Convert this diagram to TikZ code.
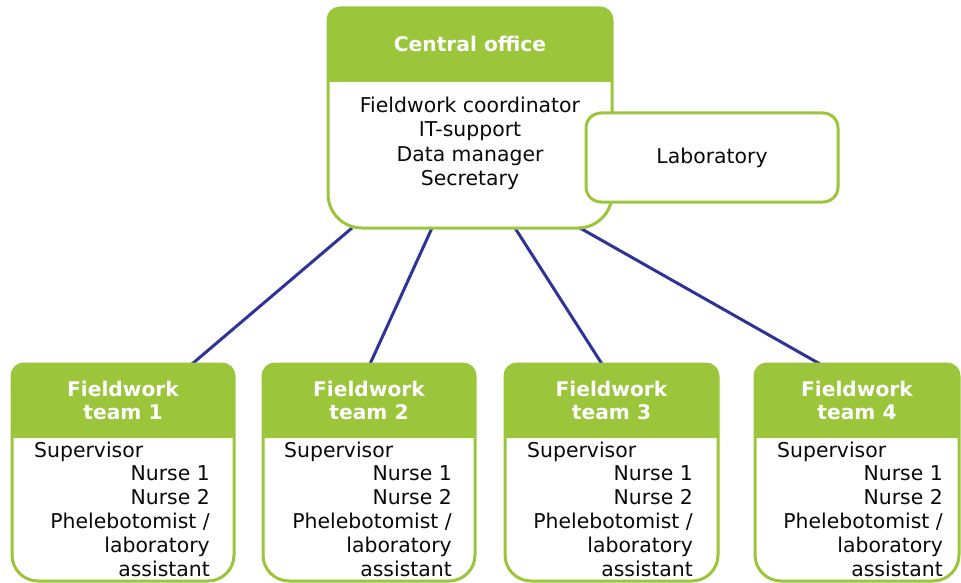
\documentclass[tikz,border=0pt]{standalone}
\usepackage{fontspec}
\setmainfont{DejaVu Sans}
\usepackage{tikz}
\definecolor{leaf}{RGB}{155,197,59}
\definecolor{navy}{RGB}{45,52,150}
\definecolor{ink}{RGB}{10,10,10}

\begin{document}
\begin{tikzpicture}[x=1pt,y=-1pt,
  holder/.style={inner sep=0pt,outer sep=0pt},
  frame/.style={draw=leaf,line width=3pt},
  head/.style={fill=leaf},
  title/.style={text=white,font=\fontsize{20.2}{23}\selectfont\bfseries,align=center,inner sep=0pt},
  staff/.style={text=ink,font=\fontsize{20.4}{24.2}\selectfont,inner sep=0pt},
  link/.style={draw=navy,line width=3pt}]
\useasboundingbox[fill=white] (0,0) rectangle (961,583);

% empty nodes that give the size of each box
\node (CO) at (470,118)[holder,minimum width=284pt,minimum height=220pt] {};
\node (T1) at (123,472.5)[holder,minimum width=222pt,minimum height=217pt] {};
\node (T2) at (369,472.5)[holder,minimum width=212pt,minimum height=217pt] {};
\node (T3) at (611.5,472.5)[holder,minimum width=213pt,minimum height=217pt] {};
\node (T4) at (857,472.5)[holder,minimum width=204pt,minimum height=217pt] {};

% links from the central office down to the teams
\draw [link] ([xshift=-118pt]CO.south) -- ([xshift=69pt]T1.north);
\draw [link] ([xshift=-38pt]CO.south) -- ([xshift=1pt]T2.north);
\draw [link] ([xshift=45pt]CO.south) -- ([xshift=-9.5pt]T3.north);
\draw [link] ([xshift=110pt]CO.south) -- ([xshift=-37pt]T4.north);

% green header bands
\fill [head] (CO.north) [rounded corners=12pt] -- (CO.north east) -- ([yshift=-37pt]CO.north east) [sharp corners] -- ([yshift=-74pt]CO.north east) -- ([yshift=-74pt]CO.north west) -- ([yshift=-37pt]CO.north west) [rounded corners=12pt] -- (CO.north west) -- cycle;
\fill [head] (T1.north) [rounded corners=12pt] -- (T1.north east) -- ([yshift=-37pt]T1.north east) [sharp corners] -- ([yshift=-74pt]T1.north east) -- ([yshift=-74pt]T1.north west) -- ([yshift=-37pt]T1.north west) [rounded corners=12pt] -- (T1.north west) -- cycle;
\fill [head] (T2.north) [rounded corners=12pt] -- (T2.north east) -- ([yshift=-37pt]T2.north east) [sharp corners] -- ([yshift=-74pt]T2.north east) -- ([yshift=-74pt]T2.north west) -- ([yshift=-37pt]T2.north west) [rounded corners=12pt] -- (T2.north west) -- cycle;
\fill [head] (T3.north) [rounded corners=12pt] -- (T3.north east) -- ([yshift=-37pt]T3.north east) [sharp corners] -- ([yshift=-74pt]T3.north east) -- ([yshift=-74pt]T3.north west) -- ([yshift=-37pt]T3.north west) [rounded corners=12pt] -- (T3.north west) -- cycle;
\fill [head] (T4.north) [rounded corners=12pt] -- (T4.north east) -- ([yshift=-37pt]T4.north east) [sharp corners] -- ([yshift=-74pt]T4.north east) -- ([yshift=-74pt]T4.north west) -- ([yshift=-37pt]T4.north west) [rounded corners=12pt] -- (T4.north west) -- cycle;

% outlines, small corners on top and big ones below
\draw [frame] (CO.north) [rounded corners=12pt] -- (CO.north east) -- (CO.east) [rounded corners=34pt] -- (CO.south east) -- (CO.south) -- (CO.south west) -- (CO.west) [rounded corners=12pt] -- (CO.north west) -- cycle;
\draw [frame] (T1.north) [rounded corners=12pt] -- (T1.north east) -- (T1.east) [rounded corners=26pt] -- (T1.south east) -- (T1.south) -- (T1.south west) -- (T1.west) [rounded corners=12pt] -- (T1.north west) -- cycle;
\draw [frame] (T2.north) [rounded corners=12pt] -- (T2.north east) -- (T2.east) [rounded corners=26pt] -- (T2.south east) -- (T2.south) -- (T2.south west) -- (T2.west) [rounded corners=12pt] -- (T2.north west) -- cycle;
\draw [frame] (T3.north) [rounded corners=12pt] -- (T3.north east) -- (T3.east) [rounded corners=26pt] -- (T3.south east) -- (T3.south) -- (T3.south west) -- (T3.west) [rounded corners=12pt] -- (T3.north west) -- cycle;
\draw [frame] (T4.north) [rounded corners=12pt] -- (T4.north east) -- (T4.east) [rounded corners=26pt] -- (T4.south east) -- (T4.south) -- (T4.south west) -- (T4.west) [rounded corners=12pt] -- (T4.north west) -- cycle;

% central office and laboratory
\node (COhead) at (470,52)[title,anchor=base] {Central office};
\node (COstaff) at (470,97)[staff,anchor=north,align=center] {Fieldwork coordinator\\IT-support\\Data manager\\Secretary};
\node (Lab) at (712,157.5)[frame,fill=white,rounded corners=15pt,minimum width=252pt,minimum height=89pt,staff] {Laboratory};

% team texts
\node (T1head) at (123,400)[title] {Fieldwork\\team 1};
\node (T1lead) at (34,457)[staff,anchor=base west] {Supervisor};
\node (T1staff) at (210,465)[staff,anchor=north east,align=right] {Nurse 1\\Nurse 2\\Phelebotomist /\\laboratory\\assistant};
\node (T2head) at (369,400)[title] {Fieldwork\\team 2};
\node (T2lead) at (284,457)[staff,anchor=base west] {Supervisor};
\node (T2staff) at (452,465)[staff,anchor=north east,align=right] {Nurse 1\\Nurse 2\\Phelebotomist /\\laboratory\\assistant};
\node (T3head) at (611.5,400)[title] {Fieldwork\\team 3};
\node (T3lead) at (527,457)[staff,anchor=base west] {Supervisor};
\node (T3staff) at (693,465)[staff,anchor=north east,align=right] {Nurse 1\\Nurse 2\\Phelebotomist /\\laboratory\\assistant};
\node (T4head) at (857,400)[title] {Fieldwork\\team 4};
\node (T4lead) at (777,457)[staff,anchor=base west] {Supervisor};
\node (T4staff) at (943,465)[staff,anchor=north east,align=right] {Nurse 1\\Nurse 2\\Phelebotomist /\\laboratory\\assistant};
\end{tikzpicture}
\end{document}
